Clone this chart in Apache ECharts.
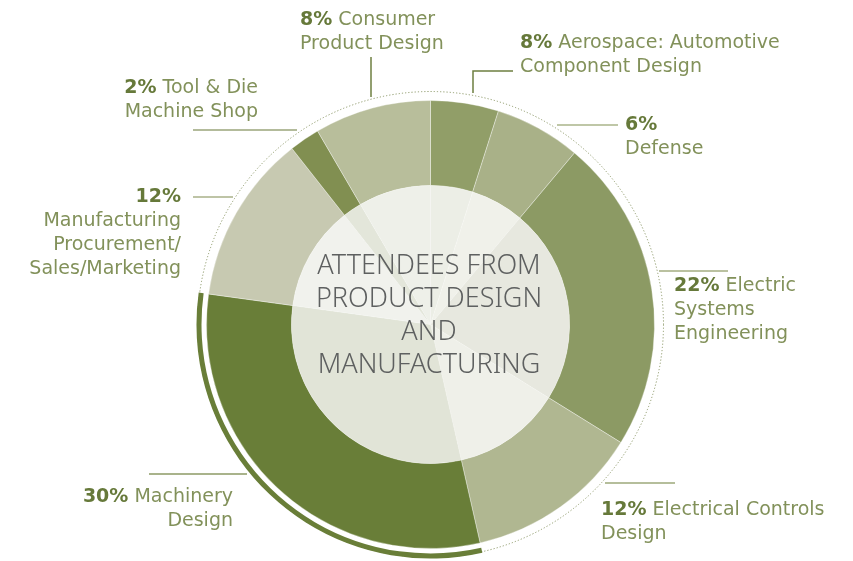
<!DOCTYPE html>
<html>
<head>
<meta charset="utf-8">
<script src="https://cdn.jsdelivr.net/npm/echarts@6/dist/echarts.min.js"></script>
<style>
  html, body { margin: 0; padding: 0; background: #fff; }
  #chart { width: 853px; height: 561px; }
</style>
</head>
<body>
<div id="chart"></div>
<script>
// slices, clockwise from 12 o'clock; shares as drawn in the picture
var names = ['Aerospace: Automotive Component Design', 'Defense', 'Electric Systems Engineering',
  'Electrical Controls Design', 'Machinery Design', 'Manufacturing Procurement/Sales/Marketing',
  'Tool & Die Machine Shop', 'Consumer Product Design'];
var shares = [4.9, 6.2, 22.7, 12.6, 30.7, 12.2, 2.2, 8.4];
// percentages as printed on the labels
var pctText = ['8%', '6%', '22%', '12%', '30%', '12%', '2%', '8%'];
// label text lines (first line follows the percentage)
var labelLines = [
  ['Aerospace: Automotive', 'Component Design'],
  ['', 'Defense'],
  ['Electric', 'Systems', 'Engineering'],
  ['Electrical Controls', 'Design'],
  ['Machinery', 'Design'],
  ['', 'Manufacturing', 'Procurement/', 'Sales/Marketing'],
  ['Tool & Die', 'Machine Shop'],
  ['Consumer', 'Product Design']
];
var outerColors = ['#919e68', '#a9b188', '#8c9a64', '#b0b791', '#697e38', '#c7c9b1', '#818f51', '#b8be9b'];
var innerColors = ['#eceee6', '#f0f1ea', '#e7e8df', '#eff0e9', '#e1e4d7', '#f1f2ed', '#e3e6da', '#eef0e9'];

var centerX = 430.5, centerY = 324.5;

// label anchors and leader lines
var labelPos = [
  { x: 520, y: 31, align: 'left', line: [[513, 71], [473, 71], [473, 93]] },
  { x: 625, y: 113, align: 'left', line: [[618, 125], [557, 125]] },
  { x: 674, y: 274, align: 'left', line: [[728, 271], [659, 271]] },
  { x: 601, y: 498, align: 'left', line: [[675, 483], [605, 483]] },
  { x: 233, y: 485, align: 'right', line: [[149, 474], [247, 474]] },
  { x: 181, y: 185, align: 'right', line: [[193, 197], [233, 197]] },
  { x: 258, y: 76, align: 'right', line: [[193, 130], [297, 130]] },
  { x: 300, y: 8, align: 'left', line: [[371, 57], [371, 97]] }
];
var lineColors = ['#6e7f40', '#aab48a', '#a3ad80', '#9da87a', '#8c9a64', '#a9b188', '#9aa57a', '#6e7f40'];

var FONT = 'DejaVu Sans';

function labelText(i) {
  var l = labelLines[i];
  var first = '{b|' + pctText[i] + '}' + (l[0] ? ' ' + l[0] : '');
  return [first].concat(l.slice(1)).join('\n');
}

var outerData = names.map(function (n, i) {
  return {
    name: n,
    value: shares[i],
    itemStyle: { color: outerColors[i] },
    labelLine: { lineStyle: { color: lineColors[i] } }
  };
});
var innerData = names.map(function (n, i) {
  return { name: n, value: shares[i], itemStyle: { color: innerColors[i] } };
});
var arcData = names.map(function (n, i) {
  return { name: n, value: shares[i], itemStyle: { color: i === 4 ? '#697e38' : 'rgba(0,0,0,0)' } };
});

var chart = echarts.init(document.getElementById('chart'));
chart.setOption({
  animation: false,
  backgroundColor: '#fff',
  title: {
    text: 'ATTENDEES FROM\nPRODUCT DESIGN\nAND\nMANUFACTURING',
    left: 429,
    top: 250,
    padding: 0,
    textAlign: 'center',
    textStyle: {
      fontFamily: 'Noto Sans',
      fontSize: 27,
      fontWeight: 300,
      lineHeight: 33,
      color: '#5e6060'
    }
  },
  graphic: [{
    type: 'circle',
    z: 0,
    silent: true,
    shape: { cx: centerX, cy: centerY, r: 233 },
    style: { fill: null, stroke: '#8e9a6a', lineWidth: 1, lineDash: [1.2, 2] }
  }],
  series: [
    {
      type: 'pie',
      center: [centerX, centerY],
      radius: [229, 234],
      startAngle: 90,
      silent: true,
      z: 3,
      label: { show: false },
      labelLine: { show: false },
      itemStyle: { borderWidth: 0 },
      data: arcData
    },
    {
      type: 'pie',
      center: [centerX, centerY],
      radius: [139, 224],
      startAngle: 90,
      silent: true,
      z: 2,
      itemStyle: { borderColor: 'rgba(255,255,255,0.35)', borderWidth: 1 },
      label: {
        show: true,
        position: 'outside',
        formatter: function (p) { return labelText(p.dataIndex); },
        fontFamily: FONT,
        fontSize: 19,
        lineHeight: 24,
        color: '#82915a',
        rich: {
          b: { fontFamily: FONT, fontSize: 19, fontWeight: 'bold', color: '#66793a', lineHeight: 24 }
        }
      },
      labelLine: { show: true, lineStyle: { width: 1.5 } },
      labelLayout: function (params) {
        var p = labelPos[params.dataIndex];
        return {
          x: p.x,
          y: p.y,
          align: p.align,
          verticalAlign: 'top',
          labelLinePoints: p.line
        };
      },
      data: outerData
    },
    {
      type: 'pie',
      center: [centerX, centerY],
      radius: [0, 139],
      startAngle: 90,
      silent: true,
      z: 2,
      itemStyle: { borderColor: 'rgba(255,255,255,0.3)', borderWidth: 0.5 },
      label: { show: false },
      labelLine: { show: false },
      data: innerData
    }
  ]
});
</script>
</body>
</html>
